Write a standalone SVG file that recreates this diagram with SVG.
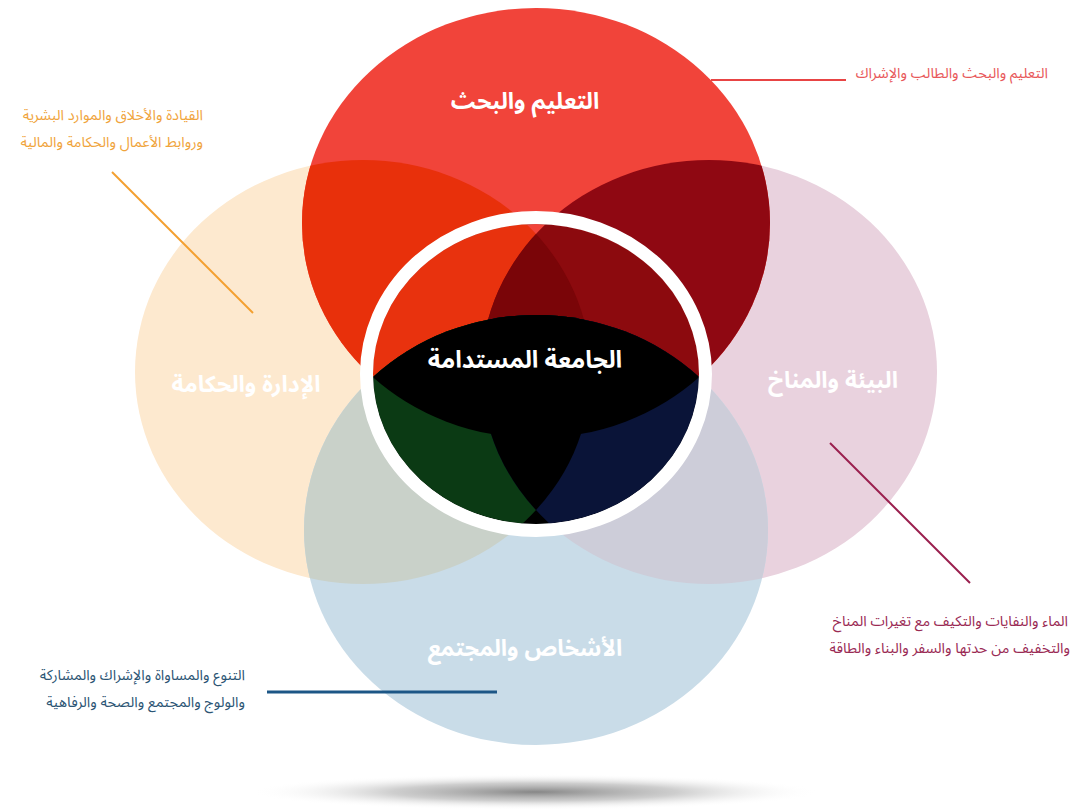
<svg xmlns="http://www.w3.org/2000/svg" xmlns:xlink="http://www.w3.org/1999/xlink" width="1071" height="809" viewBox="0 0 1071 809">
<style>
.lbl{font-family:'Noto Sans Arabic','DejaVu Sans',sans-serif;font-weight:bold;fill:#ffffff;text-anchor:middle;font-size:23px}
.note{font-family:'Noto Sans Arabic','DejaVu Sans',sans-serif;font-size:14.5px;text-anchor:end}
.con{fill:none}
</style>
<defs>
<ellipse id="eRed" cx="536" cy="223" rx="234" ry="215"/>
<ellipse id="eBeige" cx="363" cy="372" rx="228" ry="212"/>
<ellipse id="ePink" cx="709" cy="372" rx="228" ry="212"/>
<ellipse id="eBlue" cx="536" cy="530" rx="232" ry="215"/>
<clipPath id="cpRed"><use xlink:href="#eRed"/></clipPath>
<clipPath id="cpBeige"><use xlink:href="#eBeige"/></clipPath>
<clipPath id="cpPink"><use xlink:href="#ePink"/></clipPath>
<clipPath id="cpBlue"><use xlink:href="#eBlue"/></clipPath>
<clipPath id="cpInner"><ellipse cx="536" cy="374" rx="163" ry="150"/></clipPath>
<radialGradient id="gShadow" cx="0.5" cy="0.5" r="0.5">
<stop offset="0" stop-color="#808080" stop-opacity="0.95"/>
<stop offset="0.5" stop-color="#adadad" stop-opacity="0.6"/>
<stop offset="1" stop-color="#ffffff" stop-opacity="0"/>
</radialGradient>
</defs>
<rect width="1071" height="809" fill="#ffffff"/>
<ellipse id="shadow" cx="535" cy="792" rx="285" ry="18" fill="url(#gShadow)"/>

<g id="node-governance"><use xlink:href="#eBeige" fill="#fde9cf"/></g>
<g id="node-environment"><use xlink:href="#ePink" fill="#e9d2de"/></g>
<g id="node-people">
<use xlink:href="#eBlue" fill="#c9dce8"/>
<g clip-path="url(#cpBeige)"><use xlink:href="#eBlue" fill="#c9d1c9"/></g>
<g clip-path="url(#cpPink)"><use xlink:href="#eBlue" fill="#cdcdd9"/></g>
</g>
<g id="node-education">
<use xlink:href="#eRed" fill="#f1443a"/>
<g clip-path="url(#cpBeige)"><use xlink:href="#eRed" fill="#e8300b"/></g>
<g clip-path="url(#cpPink)"><use xlink:href="#eRed" fill="#8f0812"/></g>
</g>

<g id="node-center">
<g clip-path="url(#cpInner)">
<rect x="360" y="210" width="360" height="330" fill="#000000"/>
<use xlink:href="#eRed" fill="#f1443a"/>
<g clip-path="url(#cpBeige)"><use xlink:href="#eRed" fill="#e8320e"/></g>
<g clip-path="url(#cpPink)"><use xlink:href="#eRed" fill="#8c0a0e"/></g>
<g clip-path="url(#cpPink)"><g clip-path="url(#cpBeige)"><use xlink:href="#eRed" fill="#7a0508"/></g></g>
<use xlink:href="#eBlue" fill="#000000"/>
<g clip-path="url(#cpBeige)"><use xlink:href="#eBlue" fill="#0b3a14"/></g>
<g clip-path="url(#cpPink)"><use xlink:href="#eBlue" fill="#0a1438"/></g>
<g clip-path="url(#cpPink)"><g clip-path="url(#cpBeige)"><use xlink:href="#eBlue" fill="#000000"/></g></g>
<g clip-path="url(#cpRed)"><use xlink:href="#eBlue" fill="#000000"/></g>
</g>
<ellipse cx="536" cy="374" rx="169.5" ry="156.5" fill="none" stroke="#ffffff" stroke-width="13"/>
<text class="lbl" x="525" y="368" style="font-size:24px">الجامعة المستدامة</text>
</g>

<g id="labels">
<text class="lbl" x="525" y="109">التعليم والبحث</text>
<text class="lbl" x="246" y="392">الإدارة والحكامة</text>
<text class="lbl" x="833" y="388">البيئة والمناخ</text>
<text class="lbl" x="525" y="656">الأشخاص والمجتمع</text>
</g>

<g id="connectors">
<line class="con" x1="711" y1="80" x2="846" y2="80" stroke="#e84444" stroke-width="2"/>
<line class="con" x1="112" y1="172" x2="253" y2="313" stroke="#f4a030" stroke-width="2"/>
<line class="con" x1="830" y1="443" x2="970" y2="583" stroke="#9a1f4e" stroke-width="2"/>
<line class="con" x1="267" y1="692" x2="497" y2="692" stroke="#1c5686" stroke-width="3"/>
</g>

<g id="notes">
<text class="note" x="1048" y="78" fill="#e8585a">التعليم والبحث والطالب والإشراك</text>
<text class="note" x="203" y="120" fill="#f0a43c">القيادة والأخلاق والموارد البشرية</text>
<text class="note" x="203" y="147" fill="#f0a43c">وروابط الأعمال والحكامة والمالية</text>
<text class="note" x="1068" y="626" fill="#9a2a54">الماء والنفايات والتكيف مع تغيرات المناخ</text>
<text class="note" x="1070" y="653" fill="#9a2a54">والتخفيف من حدتها والسفر والبناء والطاقة</text>
<text class="note" x="245" y="680" fill="#2c5574">التنوع والمساواة والإشراك والمشاركة</text>
<text class="note" x="245" y="707" fill="#2c5574">والولوج والمجتمع والصحة والرفاهية</text>
</g>
</svg>
